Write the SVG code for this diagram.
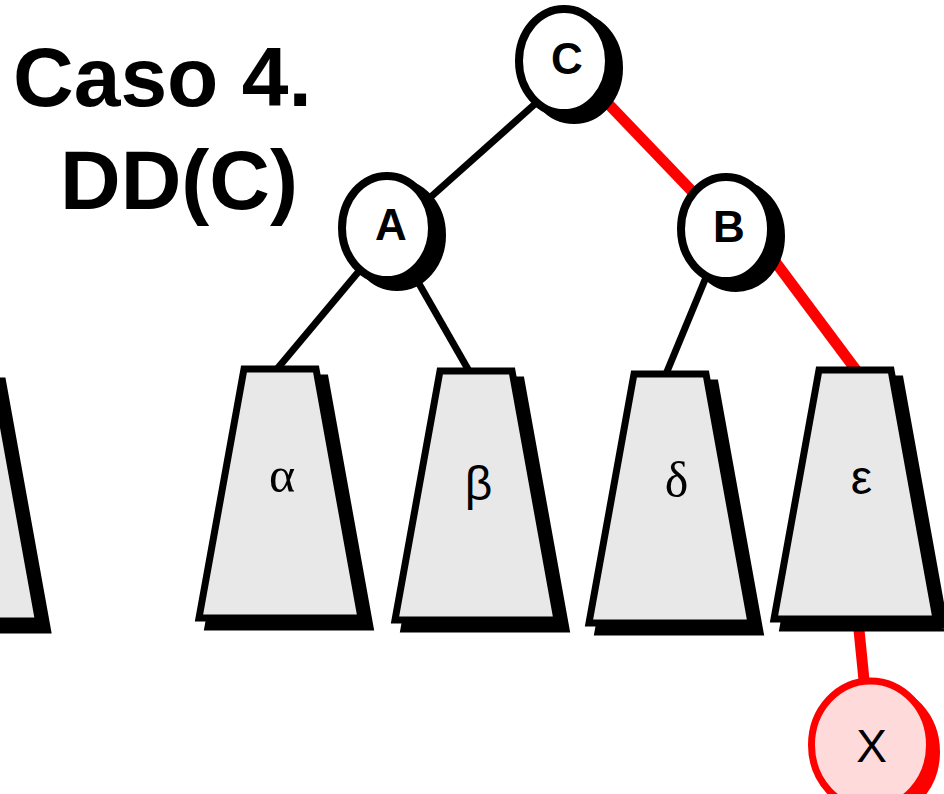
<svg xmlns="http://www.w3.org/2000/svg" width="944" height="794" viewBox="0 0 944 794">
<defs>
<path id="trap" d="M0,0 H72 L117,249 H-45 Z"/>
<ellipse id="circ" cx="0" cy="0" rx="45" ry="52"/>
</defs>
<style>
.title{font-family:"Liberation Sans",Arial,sans-serif;font-weight:bold;font-size:84px;fill:#000}
.lbl{font-family:"Liberation Sans",Arial,sans-serif;font-weight:bold;font-size:44px;text-anchor:middle;fill:#000}
.gs{font-family:"Liberation Serif","Times New Roman",serif;font-size:50px;text-anchor:middle;fill:#000}
.gn{font-family:"Liberation Sans",Arial,sans-serif;font-size:48px;text-anchor:middle;fill:#000}
.tshadow{fill:#000;stroke:#000;stroke-width:7}
.tbody{fill:#e8e8e8;stroke:#000;stroke-width:7}
.cshadow{fill:#000;stroke:#000;stroke-width:8}
.cbody{fill:#fff;stroke:#000;stroke-width:8}
.edge{stroke:#000;stroke-width:7;fill:none}
.edge-red{stroke:#f00;stroke-width:11;fill:none}
</style>
<rect width="944" height="794" fill="#fff"/>
<g id="title">
<text class="title" x="13" y="106">Caso 4.</text>
<text class="title" x="60" y="209">DD(C)</text>
</g>
<g id="connectors">
<line class="edge" x1="545" y1="95" x2="415" y2="211"/>
<line class="edge-red" x1="595" y1="90" x2="710" y2="210"/>
<line class="edge" x1="370" y1="258" x2="277" y2="369"/>
<line class="edge" x1="410" y1="268" x2="469" y2="371"/>
<line class="edge" x1="714" y1="258" x2="666" y2="374"/>
<line class="edge-red" x1="759" y1="240" x2="856" y2="370"/>
<line class="edge-red" x1="858" y1="620" x2="866" y2="700"/>
</g>
<g id="subtree-left">
<use href="#trap" class="tshadow" x="-69.5" y="381"/>
<use href="#trap" class="tbody" x="-78.5" y="372"/>
</g>
<g id="subtree-alpha">
<use href="#trap" class="tshadow" x="253" y="378"/>
<use href="#trap" class="tbody" x="244" y="369"/>
<text class="gs" x="282" y="492">α</text>
</g>
<g id="subtree-beta">
<use href="#trap" class="tshadow" x="449" y="380"/>
<use href="#trap" class="tbody" x="440" y="371"/>
<text class="gn" x="478.5" y="500">β</text>
</g>
<g id="subtree-delta">
<use href="#trap" class="tshadow" x="643" y="383"/>
<use href="#trap" class="tbody" x="634" y="374"/>
<text class="gs" x="676.5" y="497">δ</text>
</g>
<g id="subtree-epsilon">
<use href="#trap" class="tshadow" x="828" y="379"/>
<use href="#trap" class="tbody" x="819" y="370"/>
<text class="gn" x="861.5" y="494">ε</text>
</g>
<g id="node-C">
<use href="#circ" class="cshadow" x="574" y="68"/>
<use href="#circ" class="cbody" x="564" y="61"/>
<text class="lbl" x="567" y="74">C</text>
</g>
<g id="node-A">
<use href="#circ" class="cshadow" x="397" y="235"/>
<use href="#circ" class="cbody" x="387" y="228"/>
<text class="lbl" x="391" y="240">A</text>
</g>
<g id="node-B">
<use href="#circ" class="cshadow" x="736" y="236"/>
<use href="#circ" class="cbody" x="726" y="229"/>
<text class="lbl" x="729" y="242">B</text>
</g>
<g id="node-X">
<ellipse cx="877.5" cy="752" rx="59" ry="64" fill="#f00" stroke="#f00" stroke-width="7"/>
<ellipse cx="870.5" cy="745" rx="59" ry="64" fill="#ffdada" stroke="#f00" stroke-width="7"/>
<text x="871.5" y="762" font-family="'Liberation Sans',Arial,sans-serif" font-size="46" text-anchor="middle" fill="#000">X</text>
</g>
</svg>
